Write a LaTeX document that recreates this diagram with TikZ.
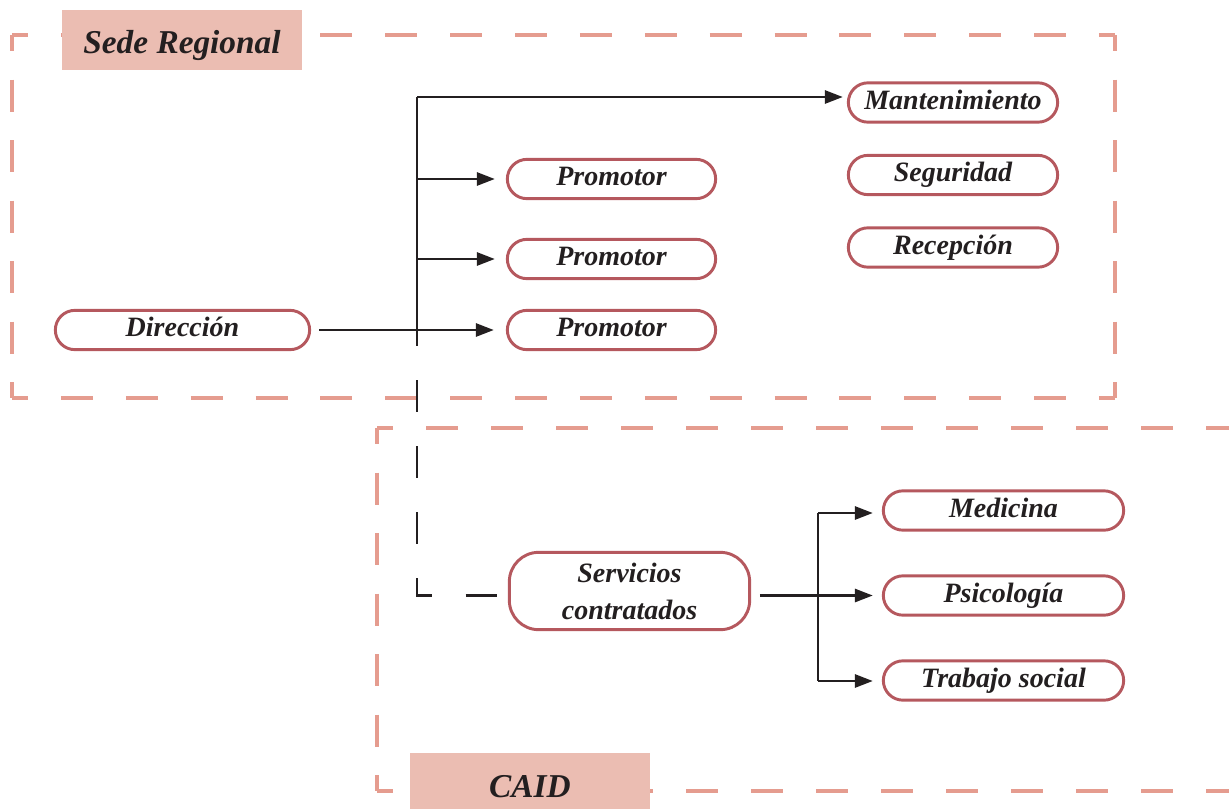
\documentclass[tikz,border=0pt]{standalone}
\usepackage{fontspec}
\setmainfont{Liberation Serif}
\usetikzlibrary{arrows.meta}
\definecolor{ink}{HTML}{231F20}
\definecolor{frameline}{HTML}{E59C8F}
\definecolor{tagfill}{HTML}{EBBDB2}
\definecolor{boxline}{HTML}{B5585E}

\begin{document}
\begin{tikzpicture}[x=0.75pt,y=-0.75pt,
  frame/.style={draw=frameline, line width=2.5pt},
  tag/.style={fill=tagfill, inner sep=0pt, minimum width=180pt, text=ink,
    font=\fontsize{25}{30}\selectfont\bfseries\itshape},
  unit/.style={draw=boxline, line width=2.2pt, fill=white, inner sep=0pt,
    rounded corners=14.75pt, minimum height=29.5pt, text=ink,
    font=\fontsize{21}{25}\selectfont\bfseries\itshape,
    text height=14pt, text depth=3.8pt},
  conn/.style={draw=ink, line width=2.1pt},
  tip/.style={-{Triangle[length=13.5pt,width=9.75pt]}},
  linkdash/.style={draw=ink, line width=2.1pt, dash pattern=on 24pt off 25.5pt, dash phase=24pt}
]
\useasboundingbox (0,0) rectangle (1229,808);
\clip (0,0) rectangle (1229,808);

% Sede Regional frame: each side drawn separately so corners get a dash
\draw[frame, dash pattern=on 24pt off 24.66pt, dash phase=12pt] (12,35) -- (1115,35);
\draw[frame, dash pattern=on 24pt off 21.375pt, dash phase=12pt] (1115,35) -- (1115,398);
\draw[frame, dash pattern=on 24pt off 24.66pt, dash phase=12pt] (12,398) -- (1115,398);
\draw[frame, dash pattern=on 24pt off 21.375pt, dash phase=12pt] (12,35) -- (12,398);

% CAID frame, open to the right
\draw[frame, dash pattern=on 24pt off 24.75pt, dash phase=12pt] (377,428) -- (1260,428);
\draw[frame, dash pattern=on 24pt off 21.375pt, dash phase=12pt] (377,428) -- (377,791);
\draw[frame, dash pattern=on 24pt off 24.75pt, dash phase=12pt] (377,791) -- (1260,791);

% frame titles
\node[tag, minimum height=45pt, text height=20pt, text depth=0.5pt] (sedetag) at (182,40) {Sede Regional};
\node[tag, minimum height=44.25pt, text height=22pt, text depth=0.2pt] (caidtag) at (530,782.5) {CAID};

% units
\node[unit, minimum width=190.75pt] (dir) at (182.5,330) {Dirección};
\node[unit, minimum width=156.25pt] (p1) at (611.5,179) {Promotor};
\node[unit, minimum width=156.25pt] (p2) at (611.5,259) {Promotor};
\node[unit, minimum width=156.25pt] (p3) at (611.5,330) {Promotor};
\node[unit, minimum width=157pt] (mant) at (953,102.5) {Mantenimiento};
\node[unit, minimum width=157pt] (seg) at (953,175) {Seguridad};
\node[unit, minimum width=157pt] (rec) at (953,247.5) {Recepción};
\node[unit, minimum width=180.25pt, minimum height=58pt, rounded corners=22pt,
  text height=, text depth=, align=center,
  font=\fontsize{21}{27.75}\selectfont\bfseries\itshape] (serv) at (629.5,591) {Servicios\\contratados};
\node[unit, minimum width=180.25pt] (med) at (1003.5,510.5) {Medicina};
\node[unit, minimum width=180.25pt] (psi) at (1003.5,595.5) {Psicología};
\node[unit, minimum width=180.25pt] (tra) at (1003.5,680.5) {Trabajo social};

% trunk from Dirección
\coordinate (trunkTop) at (417,97);
\coordinate (trunkBot) at (417,346);
\draw[conn] (trunkTop) -- (trunkBot);
\draw[conn, tip, shorten >=3pt] (trunkTop) -- (trunkTop -| mant.west);
\draw[conn, tip, shorten >=8.25pt] (trunkTop |- p1.west) -- (p1.west);
\draw[conn, tip, shorten >=8.25pt] (trunkTop |- p2.west) -- (p2.west);
\draw[conn, tip, shorten <=6pt, shorten >=9pt] (dir.east) -- (p3.west);
\draw[linkdash, shorten >=8.25pt] (trunkBot) |- (serv.west |- psi.west);

% branches from Servicios contratados
\coordinate (brTop) at (818,513);
\coordinate (brBot) at (818,681);
\draw[conn] (brTop) -- (brBot);
\draw[conn, tip, shorten <=6.5pt, shorten >=6.75pt] (serv.east |- psi.west) -- (psi.west);
\draw[conn, tip, shorten >=6.75pt] (brTop) -- (brTop -| med.west);
\draw[conn, tip, shorten >=6.75pt] (brBot) -- (brBot -| tra.west);
\end{tikzpicture}
\end{document}
